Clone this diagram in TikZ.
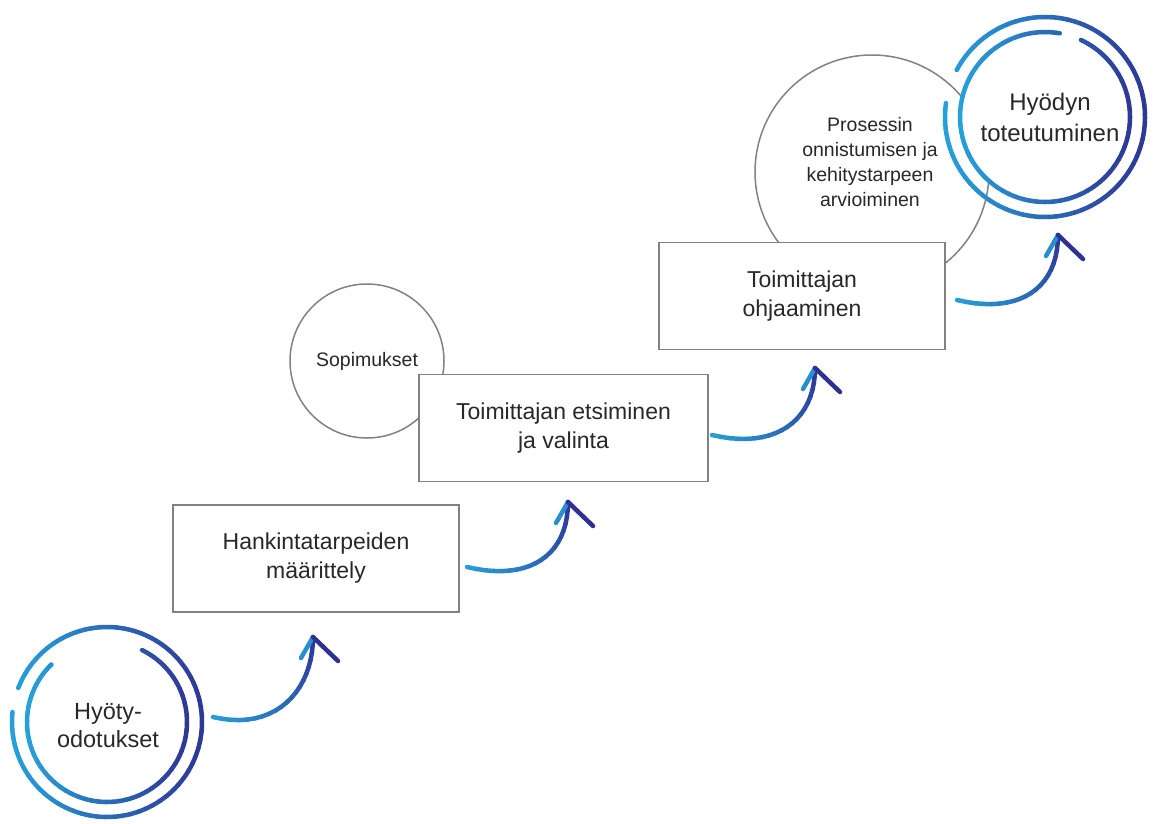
\documentclass[tikz,border=0pt]{standalone}
\usepackage{fontspec}
\setmainfont{Liberation Sans}
\usepackage{tikz}
\usetikzlibrary{calc}
\definecolor{lightblue}{RGB}{38,166,222}
\definecolor{navyblue}{RGB}{46,49,146}
\definecolor{boxgray}{RGB}{130,130,130}
\definecolor{textgray}{RGB}{40,40,40}

\tikzset{
  stepbox/.style={draw=boxgray, line width=1.8pt, fill=white, align=center, text=textgray,
    minimum width=286pt, minimum height=107pt, font=\fontsize{23}{29}\selectfont},
  sidecircle/.style={circle, draw=boxgray, line width=1.5pt, fill=white, inner sep=0pt},
  circletext/.style={align=center, text=textgray},
  brush/.style={line width=4.5pt, line cap=round},
}

% brush ring: centre, radius, from angle, to angle
\newcommand{\brushring}[4]{%
  \pgfmathtruncatemacro{\nseg}{(#4-#3)/5}
  \foreach \k in {1,...,\nseg}{
    \pgfmathsetmacro{\angA}{#3+(\k-1)*5}
    \pgfmathsetmacro{\angB}{#3+\k*5}
    \pgfmathtruncatemacro{\mixpc}{50+45*cos(\angA+2.5)}
    \draw[brush, navyblue!\mixpc!lightblue] ($(#1)+(\angA:#2)$) arc[start angle=\angA, end angle=\angB, radius=#2];
  }}

% swoosh arrow: start, tip
\newcommand{\swoosh}[2]{%
  \foreach \k in {1,...,20}{
    \pgfmathsetmacro{\posA}{(\k-1)/20}
    \pgfmathsetmacro{\posB}{\k/20}
    \pgfmathtruncatemacro{\mixpc}{5+\k*4.5}
    \path (#1) .. controls ($(#1)+(63,-15)$) and ($(#2)+(0,-53)$) .. (#2)
      coordinate[pos=\posA] (swa) coordinate[pos=\posB] (swb);
    \draw[brush, navyblue!\mixpc!lightblue] (swa) -- (swb);
  }
  \draw[brush, lightblue!80!navyblue] ($(#2)+(-12,-21)$) -- (#2);
  \draw[brush, navyblue] (#2) -- ($(#2)+(25,-24)$);
}

\begin{document}
\begin{tikzpicture}[x=1pt, y=1pt]
  \useasboundingbox (0,0) rectangle (1153,-823);

  % side circles behind the steps
  \node[sidecircle, minimum size=154pt] (contracts) at (367,-361) {};
  \node[circletext, font=\fontsize{19.5}{23}\selectfont] (contractstext) at (367,-361) {Sopimukset};
  \node[sidecircle, minimum size=234pt] (review) at (872,-172) {};
  \node[circletext, font=\fontsize{19.5}{25}\selectfont] (reviewtext) at (870,-162)
    {Prosessin\\onnistumisen ja\\kehitystarpeen\\arvioiminen};

  % steps
  \node[stepbox] (needs) at (316,-558.5) {Hankintatarpeiden\\määrittely};
  \node[stepbox, minimum width=289pt] (search) at (563.5,-428) {Toimittajan etsiminen\\ja valinta};
  \node[stepbox] (steering) at (802,-296) {Toimittajan\\ohjaaminen};

  % start ring
  \coordinate (startring) at (107,-722);
  \brushring{startring}{95}{174}{519}
  \brushring{startring}{80}{-226}{64}
  \node[circletext, font=\fontsize{23.5}{28}\selectfont] (expect) at (108,-726) {Hyöty-\\odotukset};

  % goal ring
  \coordinate (goalring) at (1045,-117);
  \fill[white] (goalring) circle[radius=86];
  \brushring{goalring}{100}{172}{514}
  \brushring{goalring}{85}{-280}{65}
  \node[circletext, font=\fontsize{24}{31}\selectfont] (benefit) at (1050,-117) {Hyödyn\\toteutuminen};

  % arrows between the steps
  \coordinate (s1) at (213,-717); \coordinate (t1) at (313,-637);
  \coordinate (s2) at (467,-567); \coordinate (t2) at (568,-502);
  \coordinate (s3) at (712,-435); \coordinate (t3) at (815,-368);
  \coordinate (s4) at (957,-300); \coordinate (t4) at (1058,-235);
  \swoosh{s1}{t1}
  \swoosh{s2}{t2}
  \swoosh{s3}{t3}
  \swoosh{s4}{t4}
\end{tikzpicture}
\end{document}
